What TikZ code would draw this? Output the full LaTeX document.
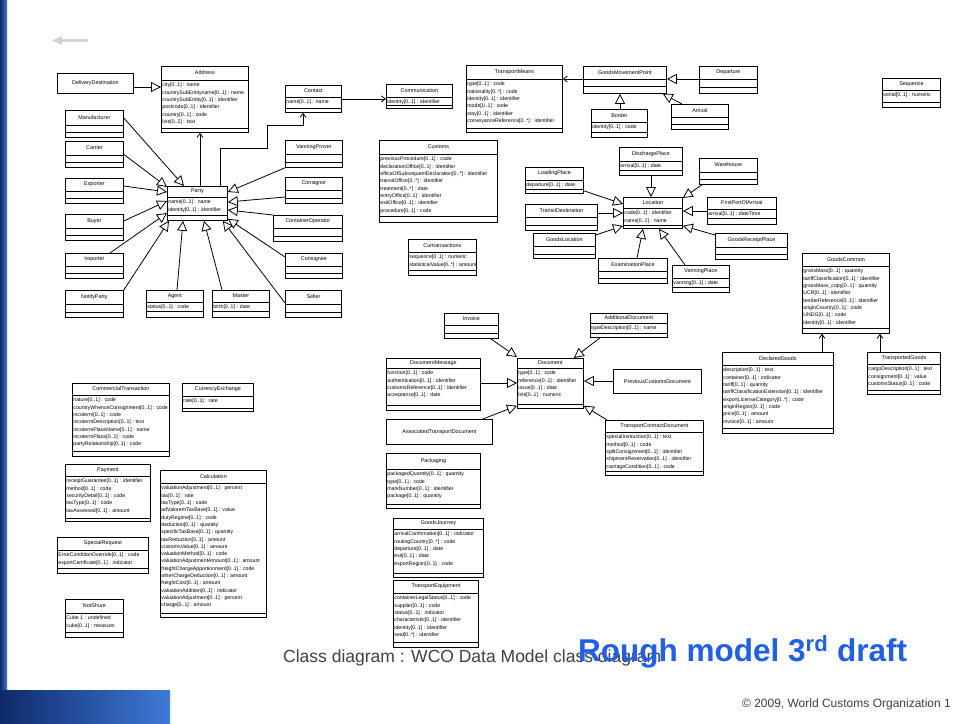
\documentclass[tikz,border=0pt]{standalone}
\usepackage{fontspec}
\setmainfont{Liberation Sans}
\usetikzlibrary{arrows.meta,calc}

\definecolor{capgray}{HTML}{404040}
\definecolor{draftblue}{HTML}{1E5EF0}
\definecolor{barnavy}{HTML}{0E2A6B}
\definecolor{barblue}{HTML}{3F7AD8}

\tikzset{
  classbox/.style={draw=black, line width=0.8pt, fill=white, inner sep=0pt, anchor=north west},
  plainbox/.style={draw=black, line width=0.8pt, fill=white, inner sep=0pt, anchor=north west,
                   font=\fontsize{5.4}{6}\selectfont},
  classtitle/.style={inner sep=0pt, font=\fontsize{5.4}{6}\selectfont},
  classattr/.style={inner sep=0pt, anchor=north west, align=left, font=\fontsize{5.2}{7.3}\selectfont},
  compline/.style={line width=0.6pt},
  gen/.style={line width=0.8pt, -{Triangle[open, length=10pt, width=10pt, fill=white]}},
  assoc/.style={line width=0.8pt, -{Straight Barb[length=4pt, width=6pt]}},
}

% UML class: name, x, y (top left), width, height, header height, bottom compartment, title, attributes
\newcommand{\umlclass}[9]{%
  \node[classbox, minimum width=#4pt, minimum height=#5pt] (#1) at (#2,#3) {};
  \node[classtitle] at ($(#1.north)+(0,#6/2)$) {#8};
  \draw[compline] ($(#1.north west)+(0,#6)$) -- ($(#1.north east)+(0,#6)$);
  \draw[compline] ($(#1.south west)+(0,-#7)$) -- ($(#1.south east)+(0,-#7)$);
  \node[classattr] at ($(#1.north west)+(1.2,#6+3)$) {#9};
}

\begin{document}
\begin{tikzpicture}[x=1pt, y=-1pt]
\useasboundingbox (0,0) rectangle (955,723);
\fill[white] (0,0) rectangle (955,723);

% slide decoration
\shade[left color=barnavy, right color=barblue] (0,0) rectangle (7,723);
\shade[left color=barnavy, right color=barblue] (0,690) rectangle (170,723);
\fill[gray!35] (62,39) -- (88,39) -- (88,42) -- (62,42) -- cycle;
\fill[gray!35] (52,40.5) -- (62,36) -- (62,45) -- cycle;

% ---------- Party and its roles ----------
\node[plainbox, minimum width=76pt, minimum height=20pt] (dd) at (57,73) {DeliveryDestination};
\umlclass{address}{161}{66}{87}{66}{14}{5}{Address}{city[0..1] : name\\countrySubEntityname[0..1] : name\\countrySubEntity[0..1] : identifier\\postcode[0..1] : identifier\\country[0..1] : code\\line[0..2] : text}
\umlclass{contact}{285}{85}{56}{27}{12}{5}{Contact}{name[0..1] : name}
\umlclass{communication}{386}{84}{66}{24}{13}{4}{Communication}{identity[0..1] : identifier}

\umlclass{manufacturer}{65}{110}{58}{27}{15}{6}{Manufacturer}{}
\umlclass{carrier}{65}{141}{58}{26}{14}{6}{Carrier}{}
\umlclass{exporter}{65}{178}{58}{25}{13}{6}{Exporter}{}
\umlclass{buyer}{65}{214}{58}{26}{14}{6}{Buyer}{}
\umlclass{importer}{65}{253}{58}{25}{13}{6}{Importer}{}
\umlclass{notifyparty}{65}{290}{58}{27}{14}{6}{NotifyParty}{}
\umlclass{agent}{146}{290}{57}{27}{12}{7}{Agent}{status[0..1] : code}
\umlclass{master}{212}{290}{57}{27}{12}{7}{Master}{birth[0..1] : date}
\umlclass{seller}{285}{290}{56}{27}{14}{6}{Seller}{}
\umlclass{party}{167}{186}{60}{34}{11}{6}{Party}{name[0..1] : name\\identity[0..1] : identifier}
\umlclass{vanningprover}{285}{140}{57}{27}{14}{6}{VanningProver}{}
\umlclass{consignor}{285}{177}{57}{26}{13}{6}{Consignor}{}
\umlclass{containeroperator}{273}{215}{69}{26}{13}{6}{ContainerOperator}{}
\umlclass{consignee}{285}{253}{57}{25}{13}{6}{Consignee}{}

% ---------- transport ----------
\umlclass{transportmeans}{466}{65}{96}{67}{14}{5}{TransportMeans}{type[0..1] : code\\nationality[0..*] : code\\identity[0..1] : identifier\\mode[0..1] : code\\stay[0..1] : identifier\\conveyanceReference[0..*] : identifier}
\umlclass{gmp}{583}{66}{83}{27}{13}{8}{GoodsMovementPoint}{}
\umlclass{departure}{699}{66}{58}{27}{13}{7}{Departure}{}
\umlclass{border}{591}{109}{56}{28}{13}{6}{Border}{identity[0..1] : code}
\umlclass{arrival}{671}{104}{57}{25}{13}{6}{Arrival}{}
\umlclass{sequence}{882}{78}{58}{29}{12}{6}{Sequence}{serial[0..1] : numeric}

% ---------- customs ----------
\umlclass{customs}{379}{140}{118}{82}{14}{7}{Customs}{previousProcedure[0..1] : code\\declarationOffice[0..1] : identifier\\officeOfSubsequentDeclaration[0..*] : identifier\\transitOffice[0..*] : identifier\\treatment[0..*] : date\\entryOffice[0..1] : identifier\\exitOffice[0..1] : identifier\\procedure[0..1] : code}
\umlclass{curtrans}{408}{239}{68}{36}{13}{6}{Curtransactions}{sequence[0..1] : numeric\\statisticalValue[0..*] : amount}

% ---------- locations ----------
\umlclass{dischargeplace}{619}{147}{63}{28}{14}{6}{DischargePlace}{arrival[0..1] : date}
\umlclass{warehouse}{699}{158}{58}{26}{14}{6}{Warehouse}{}
\umlclass{loadingplace}{525}{167}{58}{26}{13}{5}{LoadingPlace}{departure[0..1] : date}
\umlclass{location}{623}{197}{59}{31}{11}{4}{Location}{code[0..1] : identifier\\name[0..1] : name}
\umlclass{transitdestination}{525}{204}{72}{26}{13}{6}{TransitDestination}{}
\umlclass{firstportofarrival}{707}{197}{69}{27}{12}{7}{FirstPortOfArrival}{arrival[0..1] : dateTime}
\umlclass{goodslocation}{533}{233}{62}{25}{13}{5}{GoodsLocation}{}
\umlclass{goodsreceiptplace}{715}{233}{72}{26}{14}{6}{GoodsReceiptPlace}{}
\umlclass{examinationplace}{598}{258}{69}{25}{13}{6}{ExaminationPlace}{}
\umlclass{vanningplace}{672}{265}{57}{27}{13}{6}{VanningPlace}{vanning[0..1] : date}

% ---------- goods ----------
\umlclass{goodscommon}{802}{253}{87}{80}{13}{6}{GoodsCommon}{grossMass[0..1] : quantity\\tariffClassification[0..1] : identifier\\grossMass\_copy[0..1] : quantity\\UCR[0..1] : identifier\\tenderReference[0..1] : identifier\\originCountry[0..1] : code\\UNDG[0..1] : code\\identity[0..1] : identifier}
\umlclass{declaredgoods}{722}{352}{111}{81}{13}{6}{DeclaredGoods}{description[0..1] : text\\container[0..1] : indicator\\tariff[0..1] : quantity\\tariffClassificationExtension[0..1] : identifier\\exportLicenseCategory[0..*] : code\\originRegion[0..1] : code\\price[0..1] : amount\\invoice[0..1] : amount}
\umlclass{transportedgoods}{867}{352}{73}{42}{12}{5}{TransportedGoods}{cargoDescription[0..1] : text\\consignment[0..1] : value\\customsStatus[0..1] : code}

% ---------- documents ----------
\umlclass{invoice}{444}{313}{54}{25}{12}{6}{Invoice}{}
\umlclass{additionaldocument}{590}{313}{77}{24}{10}{5}{AdditionalDocument}{typeDescription[0..1] : name}
\umlclass{documentmessage}{386}{358}{94}{52}{10}{6}{DocumentMessage}{function[0..1] : code\\authentication[0..1] : identifier\\customsReference[0..1] : identifier\\acceptance[0..1] : date}
\umlclass{document}{517}{358}{66}{50}{10}{5}{Document}{type[0..1] : code\\reference[0..1] : identifier\\issue[0..1] : date\\line[0..1] : numeric}
\node[plainbox, minimum width=88pt, minimum height=24pt] (previouscustomsdocument) at (613,369) {PreviousCustomsDocument};
\node[plainbox, minimum width=106pt, minimum height=25pt] (associatedtransportdocument) at (386,419) {AssociatedTransportDocument};
\umlclass{transportcontractdocument}{605}{420}{98}{55}{12}{5}{TransportContractDocument}{specialInstruction[0..1] : text\\method[0..1] : code\\splitConsignment[0..1] : identifier\\shipmentReservation[0..1] : identifier\\carriageCondition[0..1] : code}
\umlclass{packaging}{386}{453}{94}{55}{16}{5}{Packaging}{packagedQuantity[0..1] : quantity\\type[0..1] : code\\markNumber[0..1] : identifier\\package[0..1] : quantity}
\umlclass{goodsjourney}{393}{518}{90}{59}{11}{5}{GoodsJourney}{arrivalConfirmation[0..1] : indicator\\routingCountry[0..*] : code\\departure[0..1] : date\\exit[0..1] : date\\exportRegion[0..1] : code}
\umlclass{transportequipment}{393}{580}{85}{67}{13}{6}{TransportEquipment}{containerLegalStatus[0..1] : code\\supplier[0..1] : code\\status[0..1] : indicator\\characteristic[0..1] : identifier\\identity[0..1] : identifier\\seal[0..*] : identifier}

% ---------- transaction and calculation ----------
\umlclass{commercialtransaction}{72}{383}{97}{73}{12}{6}{CommercialTransaction}{nature[0..1] : code\\countryWhenceConsignment[0..1] : code\\incoterm[0..1] : code\\incotermDescription[0..1] : text\\incotermPlaceName[0..1] : name\\incotermPlace[0..1] : code\\partyRelationship[0..1] : code}
\umlclass{currencyexchange}{182}{383}{71}{28}{13}{4}{CurrencyExchange}{rate[0..1] : rate}
\umlclass{payment}{65}{464}{85}{57}{12}{4}{Payment}{receiptGuarantee[0..1] : identifier\\method[0..1] : code\\securityDetail[0..1] : code\\taxType[0..1] : code\\taxAssessed[0..1] : amount}
\umlclass{calculation}{160}{470}{106}{147}{13}{5}{Calculation}{valuationAdjustment[0..1] : percent\\tax[0..1] : rate\\taxType[0..1] : code\\adValoremTaxBase[0..1] : value\\dutyRegime[0..1] : code\\deduction[0..1] : quantity\\specificTaxBase[0..1] : quantity\\taxReduction[0..1] : amount\\customsValue[0..1] : amount\\valuationMethod[0..1] : code\\valuationAdjustmentAmount[0..1] : amount\\freightChargeApportionment[0..1] : code\\otherChargeDeduction[0..1] : amount\\freightCost[0..1] : amount\\valuationAddition[0..1] : indicator\\valuationAdjustment[0..1] : percent\\charge[0..1] : amount}
\umlclass{specialrequest}{57}{537}{91}{36}{13}{6}{SpecialRequest}{ErrorConditionOverride[0..1] : code\\exportCertificate[0..1] : indicator}
\umlclass{notshure}{65}{599}{58}{38}{14}{6}{NotShure}{Cube 1 : undefined\\cube[0..1] : measure}

% ---------- generalisations ----------
\draw[gen] ($(dd.north east)+(0,14)$) -- ($(address.north west)+(0,21)$);
\draw[gen] ($(manufacturer.north east)+(0,8)$) -- ($(party.north west)+(17,0)$);
\draw[gen] (carrier.east) -- ($(party.north west)+(0,1)$);
\draw[gen] ($(exporter.north east)+(0,8)$) -- ($(party.north west)+(0,6)$);
\draw[gen] ($(buyer.north east)+(0,7)$) -- ($(party.north west)+(0,15)$);
\draw[gen] ($(importer.north west)+(45,0)$) -- ($(party.north west)+(0,27)$);
\draw[gen] (notifyparty.north east) -- ($(party.south west)+(2,0)$);
\draw[gen] ($(agent.north west)+(31,0)$) -- ($(party.south west)+(16,0)$);
\draw[gen] ($(master.north west)+(10,0)$) -- ($(party.south west)+(37,0)$);
\draw[gen] ($(seller.north west)+(0,13)$) -- ($(party.south east)+(-5,0)$);
\draw[gen] ($(consignee.north west)+(0,4)$) -- ($(party.south east)+(0,-2)$);
\draw[gen] (containeroperator.north west) -- ($(party.north east)+(0,24)$);
\draw[gen] ($(consignor.north west)+(0,20)$) -- ($(party.north east)+(0,16)$);
\draw[gen] (vanningprover.south west) -- ($(party.north east)+(0,6)$);

\draw[gen] ($(departure.north west)+(0,13)$) -- ($(gmp.north east)+(0,13)$);
\draw[gen] ($(border.north west)+(29,0)$) -- ($(gmp.south west)+(37,0)$);
\draw[gen] ($(arrival.north west)+(11,0)$) -- ($(gmp.south east)+(-4,0)$);

\draw[gen] ($(dischargeplace.south west)+(32,0)$) -- ($(location.north west)+(28,0)$);
\draw[gen] ($(warehouse.south west)+(3,0)$) -- ($(location.north east)+(0,1)$);
\draw[gen] ($(loadingplace.south east)+(0,-3)$) -- ($(location.north west)+(0,7)$);
\draw[gen] ($(transitdestination.north east)+(0,9)$) -- ($(location.north west)+(0,16)$);
\draw[gen] ($(goodslocation.north east)+(0,2)$) -- ($(location.south west)+(0,-3)$);
\draw[gen] ($(examinationplace.north west)+(39,0)$) -- ($(location.south west)+(20,0)$);
\draw[gen] ($(vanningplace.north west)+(13,0)$) -- ($(location.south west)+(36,0)$);
\draw[gen] ($(firstportofarrival.north west)+(0,14)$) -- ($(location.north east)+(0,14)$);
\draw[gen] ($(goodsreceiptplace.north west)+(0,2)$) -- ($(location.south east)+(0,-3)$);

\draw[gen] ($(invoice.south east)+(-8,0)$) -- ($(document.north west)+(0,-1)$);
\draw[gen] ($(additionaldocument.south west)+(10,0)$) -- ($(document.north east)+(-10,0)$);
\draw[gen] ($(documentmessage.north east)+(0,25)$) -- ($(document.north west)+(0,25)$);
\draw[gen] ($(previouscustomsdocument.north west)+(0,12)$) -- ($(document.north east)+(0,23)$);
\draw[gen] ($(associatedtransportdocument.north east)+(-10,0)$) -- ($(document.south west)+(0,-3)$);
\draw[gen] ($(transportcontractdocument.north west)+(2,0)$) -- ($(document.south east)+(0,-3)$);

% ---------- associations ----------
\coordinate (bend1) at (267,148);
\coordinate (bend2) at (303,125);
\draw[assoc] ($(party.north west)+(33,0)$) -- ($(address.south west)+(39,0)$);
\draw[assoc] ($(party.north west)+(53,0)$) |- (bend1) |- (bend2) -- (bend2 |- contact.south);
\draw[assoc] (contact.east) -- (contact.east -| communication.west);
\draw[assoc] ($(gmp.north west)+(0,13)$) -- ($(transportmeans.north east)+(0,14)$);
\draw[assoc] ($(declaredgoods.north west)+(100,0)$) -- ($(goodscommon.south west)+(20,0)$);
\draw[assoc] ($(transportedgoods.north west)+(13,0)$) -- ($(goodscommon.south west)+(78,0)$);

% ---------- captions ----------
\node[anchor=base west, inner sep=0pt, text=capgray, font=\fontsize{17.5}{20}\selectfont] (caption) at (283,662) {Class diagram : WCO Data Model class diagram};
\node[anchor=base west, inner sep=0pt, text=draftblue, font=\fontsize{31.5}{34}\bfseries] (draft) at (578,661) {Rough model 3\textsuperscript{rd} draft};
\node[anchor=base east, inner sep=0pt, text=capgray, font=\fontsize{12}{14}\selectfont] (copyright) at (951,707) {© 2009, World Customs Organization 1};
\end{tikzpicture}
\end{document}
